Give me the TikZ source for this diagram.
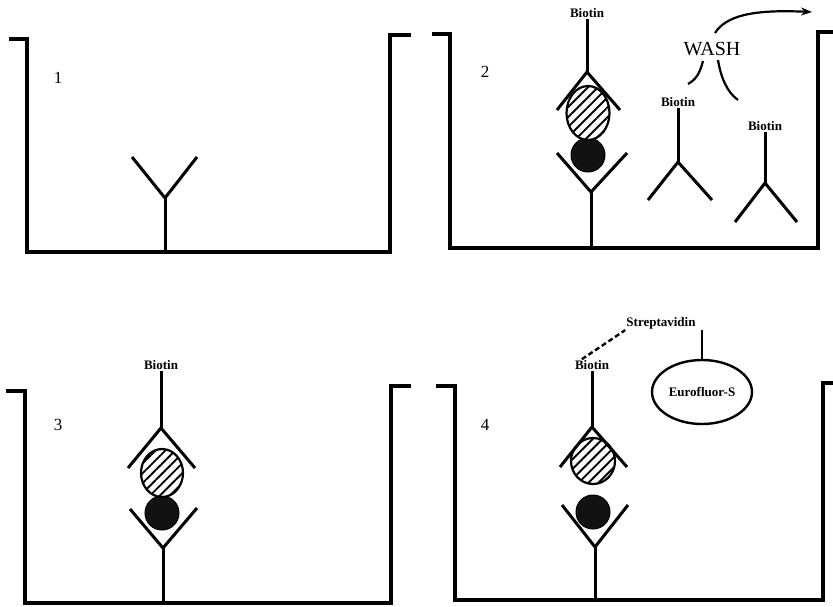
\documentclass[tikz,border=0pt]{standalone}
\usepackage{fontspec}
\setmainfont{Liberation Serif}
\usetikzlibrary{arrows.meta,patterns.meta,shapes.geometric}

\tikzset{
  well/.style={line width=3.2pt, line join=miter},
  arm/.style={line width=3pt},
  tag/.style={font=\bfseries\fontsize{13}{13}\selectfont, inner sep=1pt},
  num/.style={font=\fontsize{17}{17}\selectfont},
  antigen/.style={line width=2.2pt, fill=white,
    postaction={pattern={Lines[angle=45,distance=7pt,line width=1.9pt]}}},
  bead/.style={fill=black!93, draw=black, line width=1pt},
}

\begin{document}
\begin{tikzpicture}[x=1pt,y=-1pt]
\useasboundingbox (0,0) rectangle (833,606);

% well 1
\draw[well] (9,39) -- (27,39) -- (27,252) -- (390,252) -- (390,35) -- (411,35);
\node[num] (n1) at (58,78) {1};
\coordinate (y1) at (165,198);
\draw[arm] (132,157) -- (y1) -- (197,157);
\draw[arm] (y1) -- (165,252);

% well 2
\draw[well] (432,34) -- (450,34) -- (450,248) -- (818,248) -- (818,32) -- (833,32);
\node[num] (n2) at (485,72) {2};
\coordinate (y2) at (591,192);
\draw[arm] (557,153) -- (y2) -- (627,153);
\draw[arm] (y2) -- (591,248);
\draw[bead] (588,155) circle (17);
\draw[antigen] (588,113) ellipse [x radius=21.5, y radius=27];
\node[tag] (bio2) at (587,13) {Biotin};
\coordinate (t2) at (587,72);
\draw[arm] (bio2) -- (t2);
\draw[arm] (557,110) -- (t2) -- (620,110);

\node[tag] (bio2a) at (678,102) {Biotin};
\coordinate (f2a) at (678,162);
\draw[arm] (bio2a) -- (f2a);
\draw[arm] (648,200) -- (f2a) -- (712,200);

\node[tag] (bio2b) at (765,126) {Biotin};
\coordinate (f2b) at (765,183);
\draw[arm] (bio2b) -- (f2b);
\draw[arm] (735,222) -- (f2b) -- (797,222);

\node[font=\fontsize{20}{20}\selectfont] (wash) at (712,49) {WASH};
\draw[line width=2.2pt] (703,61) .. controls (700,72) and (697,79) .. (688,84);
\draw[line width=2.2pt] (718,60) .. controls (721,78) and (727,92) .. (738,100);
\draw[line width=2.2pt, -{Stealth[length=11pt,width=8pt]}] (715,33) .. controls (728,12) and (765,10) .. (812,12);

% well 3
\draw[well] (6,391) -- (25,391) -- (25,603) -- (391,603) -- (391,386) -- (411,386);
\node[num] (n3) at (58,425) {3};
\coordinate (y3) at (163,548);
\draw[arm] (130,509) -- (y3) -- (197,508);
\draw[arm] (y3) -- (163,603);
\draw[bead] (162,513) circle (17);
\draw[antigen] (162,473) ellipse [x radius=21, y radius=24];
\node[tag] (bio3) at (161,365) {Biotin};
\coordinate (t3) at (161,428);
\draw[arm] (bio3) -- (t3);
\draw[arm] (128,468) -- (t3) -- (195,468);

% well 4
\draw[well] (436,386) -- (455,386) -- (455,600) -- (823,600) -- (823,383) -- (833,383);
\node[num] (n4) at (485,425) {4};
\coordinate (y4) at (595,547);
\draw[arm] (562,505) -- (y4) -- (628,505);
\draw[arm] (y4) -- (595,600);
\draw[bead] (593,512) circle (17);
\draw[antigen] (593,461) ellipse [x radius=22, y radius=23];
\node[tag] (bio4) at (592,365) {Biotin};
\coordinate (t4) at (592,427);
\draw[arm] (bio4) -- (t4);
\draw[arm] (560,467) -- (t4) -- (627,467);

\node[tag] (strep) at (661,323) {Streptavidin};
\node[tag, draw, ellipse, line width=2.4pt, minimum width=100pt, minimum height=64pt] (euro) at (702,392) {Eurofluor-S};
\draw[line width=2.4pt, dash pattern=on 5pt off 3pt] ([xshift=8pt]bio4.north west) -- (strep.south west);
\draw[line width=2.4pt] (euro.north |- strep.south) -- (euro.north);

\end{tikzpicture}
\end{document}
